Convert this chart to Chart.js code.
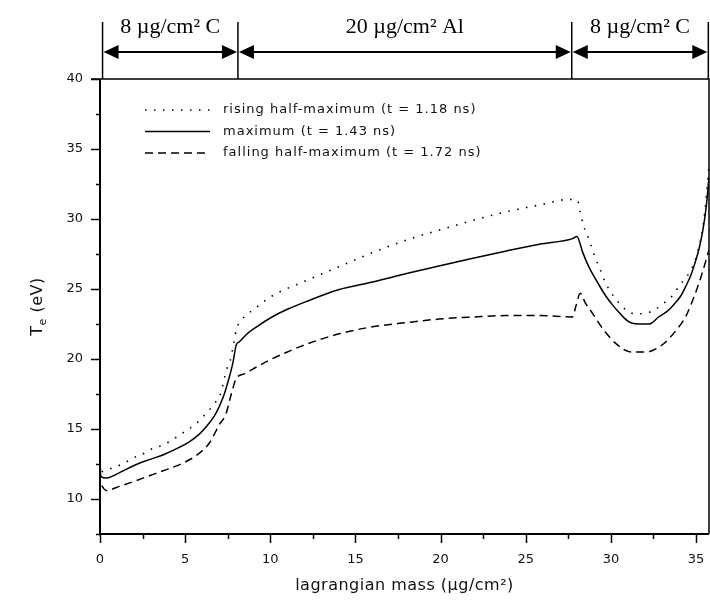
<!DOCTYPE html>
<html>
<head>
<meta charset="utf-8">
<script src="https://cdn.jsdelivr.net/npm/chart.js@4.4.1/dist/chart.umd.min.js"></script>
<style>
	html, body { margin: 0; padding: 0; background: #fff; }
	#wrap { width: 710px; height: 612px; }
</style>
</head>
<body>
<div id="wrap"><canvas id="chart" width="710" height="612"></canvas></div>
<script>
	'use strict';

	// electron temperature profiles
	var risingMass = [0.1, 0.84, 1.43, 1.9, 2.5, 3.0, 3.58, 4.07, 4.55, 5.14, 5.64, 6.22, 6.71, 7.1, 7.3, 7.5, 7.7, 7.8, 7.9, 8.0, 8.2, 9.2, 10.1, 12.1, 14.05, 16.0, 18.0, 19.9, 21.9, 23.8, 25.8, 27.56, 28.05, 28.2, 28.4, 28.7, 29.0, 29.3, 29.7, 30.4, 30.9, 31.5, 32.0, 32.4, 33.0, 33.6, 34.0, 34.4, 34.8, 35.1, 35.4, 35.6, 35.76];
	var risingTe = [11.95, 12.26, 12.57, 12.9, 13.2, 13.55, 13.8, 14.1, 14.47, 14.95, 15.38, 16.1, 16.8, 17.6, 18.6, 19.5, 20.1, 20.8, 21.4, 22.1, 22.6, 23.7, 24.5, 25.6, 26.6, 27.6, 28.5, 29.2, 29.9, 30.5, 31.0, 31.4, 31.3, 30.5, 29.5, 28.6, 27.5, 26.6, 25.4, 24.1, 23.5, 23.2, 23.3, 23.4, 23.9, 24.5, 25.2, 25.8, 26.6, 27.7, 29.4, 31.6, 33.8];

	var maxMass = [0, 0.05, 0.4, 0.85, 1.5, 2.3, 3.0, 3.8, 4.5, 5.2, 5.8, 6.3, 6.7, 7.0, 7.3, 7.5, 7.8, 8.0, 8.2, 8.6, 9.2, 10.1, 11.0, 12.1, 14.0, 16.0, 18.0, 19.9, 21.9, 23.8, 25.8, 27.75, 28.0, 28.35, 28.7, 29.2, 29.7, 30.1, 30.5, 30.85, 31.2, 31.7, 32.25, 32.8, 33.3, 33.7, 34.1, 34.4, 34.7, 35.0, 35.2, 35.4, 35.6, 35.76];
	var maxTe = [12.7, 11.6, 11.5, 11.7, 12.1, 12.55, 12.85, 13.2, 13.6, 14.05, 14.6, 15.25, 15.9, 16.6, 17.5, 18.3, 19.7, 21.0, 21.25, 21.75, 22.3, 23.0, 23.55, 24.1, 24.95, 25.5, 26.1, 26.65, 27.2, 27.7, 28.2, 28.6, 28.75, 27.6, 26.6, 25.5, 24.5, 23.85, 23.3, 22.85, 22.57, 22.5, 22.5, 23.0, 23.4, 23.9, 24.5, 25.2, 26.0, 27.1, 28.0, 29.2, 30.9, 33.0];

	var fallingMass = [0.1, 0.35, 1.13, 2.0, 2.9, 3.9, 4.76, 5.64, 6.42, 7.0, 7.4, 7.7, 8.0, 8.5, 9.0, 10.0, 11.0, 12.1, 14.05, 16.0, 18.0, 19.9, 21.9, 23.8, 25.8, 27.75, 27.95, 28.2, 28.5, 28.9, 29.5, 30.3, 31.2, 32.06, 33.0, 33.8, 34.4, 34.9, 35.3, 35.76];
	var fallingTe = [10.95, 10.6, 10.9, 11.26, 11.66, 12.1, 12.5, 13.1, 14.0, 15.3, 16.1, 17.45, 18.6, 18.95, 19.3, 19.95, 20.5, 21.05, 21.8, 22.3, 22.6, 22.85, 23.0, 23.1, 23.1, 23.0, 23.8, 24.7, 24.0, 23.3, 22.2, 21.1, 20.5, 20.5, 21.0, 22.0, 23.05, 24.5, 25.9, 27.8];

	var seriesLabels = ['rising half-maximum (t = 1.18 ns)', 'maximum (t = 1.43 ns)', 'falling half-maximum (t = 1.72 ns)'];

	// target layers shown above the frame
	var layerEdges = [0.15, 8.1, 27.7, 35.72];
	var layerLabels = ['8 \u00b5g/cm\u00b2 C', '20 \u00b5g/cm\u00b2 Al', '8 \u00b5g/cm\u00b2 C'];

	var xMin = 0, xMax = 35.76, yMin = 7.5, yMax = 40;

	function toPoints(xs, ys) {
		return xs.map(function (x, i) {
			return {x: x, y: ys[i]};
		});
	}

	var dashes = [[1.5, 7.5], [], [8, 5]];

	var framePlugin = {
		id: 'frame',
		afterDraw: function (chart) {
			var ctx = chart.ctx,
				area = chart.chartArea,
				xs = chart.scales.x,
				ys = chart.scales.y;

			ctx.save();
			ctx.strokeStyle = '#000';
			ctx.fillStyle = '#000';

			// axes and box
			ctx.lineWidth = 2;
			ctx.beginPath();
			ctx.moveTo(area.left, area.top);
			ctx.lineTo(area.left, area.bottom);
			ctx.lineTo(area.right, area.bottom);
			ctx.stroke();
			ctx.lineWidth = 1.5;
			ctx.beginPath();
			ctx.moveTo(area.left - 9, area.top);
			ctx.lineTo(area.right, area.top);
			ctx.lineTo(area.right, area.bottom);
			ctx.stroke();

			// tick marks, long on labelled values
			ctx.lineWidth = 1.5;
			ys.ticks.forEach(function (t) {
				var py = Math.round(ys.getPixelForValue(t.value)) + 0.5,
					len = t.value % 5 === 0 ? 9 : 4;
				ctx.beginPath();
				ctx.moveTo(area.left - len, py);
				ctx.lineTo(area.left, py);
				ctx.stroke();
			});
			xs.ticks.forEach(function (t) {
				var px = Math.round(xs.getPixelForValue(t.value)) + 0.5,
					len = t.value % 5 === 0 ? 9 : 5;
				ctx.beginPath();
				ctx.moveTo(px, area.bottom);
				ctx.lineTo(px, area.bottom + len);
				ctx.stroke();
			});

			// legend
			var rowY = [110, 131.5, 153];
			ctx.lineWidth = 1.5;
			rowY.forEach(function (y, i) {
				ctx.setLineDash(dashes[i]);
				ctx.beginPath();
				ctx.moveTo(145, y);
				ctx.lineTo(210, y);
				ctx.stroke();
			});
			ctx.setLineDash([]);
			ctx.font = '13px "DejaVu Sans"';
			ctx.letterSpacing = '1px';
			ctx.textBaseline = 'middle';
			ctx.textAlign = 'left';
			ctx.fillStyle = '#111';
			rowY.forEach(function (y, i) {
				ctx.fillText(seriesLabels[i], 223, y);
			});

			// axis titles
			ctx.letterSpacing = '0.5px';
			ctx.font = '16px "DejaVu Sans"';
			ctx.textAlign = 'center';
			ctx.fillText('lagrangian mass (\u00b5g/cm\u00b2)', (area.left + area.right) / 2, 586);

			ctx.save();
			ctx.translate(38, (area.top + area.bottom) / 2);
			ctx.rotate(-Math.PI / 2);
			ctx.textAlign = 'left';
			var wT = ctx.measureText('T').width,
				rest = ' (eV)';
			ctx.font = '11px "DejaVu Sans"';
			var wE = ctx.measureText('e').width;
			ctx.font = '16px "DejaVu Sans"';
			var wR = ctx.measureText(rest).width,
				x0 = -(wT + wE + wR) / 2;
			ctx.fillText('T', x0, 0);
			ctx.font = '11px "DejaVu Sans"';
			ctx.fillText('e', x0 + wT, 5);
			ctx.font = '16px "DejaVu Sans"';
			ctx.fillText(rest, x0 + wT + wE, 0);
			ctx.restore();

			// layer brackets above the plot
			ctx.letterSpacing = '0px';
			ctx.fillStyle = '#000';
			var edgePx = layerEdges.map(function (v) {
				return xs.getPixelForValue(v);
			});
			var arrowY = 52, head = 15, half = 7;
			ctx.lineWidth = 1.5;
			edgePx.forEach(function (px) {
				ctx.beginPath();
				ctx.moveTo(px, 22);
				ctx.lineTo(px, area.top);
				ctx.stroke();
			});
			for (var i = 0; i < edgePx.length - 1; i++) {
				var a = edgePx[i] + 1, b = edgePx[i + 1] - 1;
				ctx.lineWidth = 2;
				ctx.beginPath();
				ctx.moveTo(a + head - 2, arrowY);
				ctx.lineTo(b - head + 2, arrowY);
				ctx.stroke();
				ctx.beginPath();
				ctx.moveTo(a, arrowY);
				ctx.lineTo(a + head, arrowY - half);
				ctx.lineTo(a + head, arrowY + half);
				ctx.closePath();
				ctx.fill();
				ctx.beginPath();
				ctx.moveTo(b, arrowY);
				ctx.lineTo(b - head, arrowY - half);
				ctx.lineTo(b - head, arrowY + half);
				ctx.closePath();
				ctx.fill();

				ctx.font = '22px "Liberation Serif"';
				ctx.textAlign = 'center';
				ctx.textBaseline = 'alphabetic';
				ctx.fillText(layerLabels[i], (edgePx[i] + edgePx[i + 1]) / 2, 33);
			}
			ctx.restore();
		}
	};

	var lineStyle = {
		borderColor: '#000',
		borderWidth: 1.5,
		pointRadius: 0,
		cubicInterpolationMode: 'monotone',
		fill: false
	};

	new Chart(document.getElementById('chart'), {
		type: 'line',
		data: {
			datasets: [
				Object.assign({label: seriesLabels[0], data: toPoints(risingMass, risingTe), borderDash: dashes[0]}, lineStyle, {borderWidth: 1.6}),
				Object.assign({label: seriesLabels[1], data: toPoints(maxMass, maxTe)}, lineStyle),
				Object.assign({label: seriesLabels[2], data: toPoints(fallingMass, fallingTe), borderDash: dashes[2]}, lineStyle)
			]
		},
		options: {
			responsive: false,
			animation: false,
			devicePixelRatio: 1,
			layout: {padding: {top: 79, right: 1, bottom: 0, left: 0}},
			plugins: {legend: {display: false}, tooltip: {enabled: false}},
			scales: {
				x: {
					type: 'linear',
					min: xMin,
					max: xMax,
					afterFit: function (scale) {
						scale.height = 78;
						scale.paddingLeft = 0;
						scale.paddingRight = 0;
					},
					grid: {display: false, drawTicks: false},
					border: {display: false},
					ticks: {
						stepSize: 2.5,
						includeBounds: false,
						autoSkip: false,
						maxRotation: 0,
						padding: 18,
						color: '#111',
						font: {family: 'DejaVu Sans', size: 13},
						callback: function (v) { return v % 5 === 0 ? String(v) : ''; }
					}
				},
				y: {
					type: 'linear',
					min: yMin,
					max: yMax,
					afterFit: function (scale) {
						scale.width = 100;
						scale.paddingTop = 0;
						scale.paddingBottom = 0;
					},
					grid: {display: false, drawTicks: false},
					border: {display: false},
					ticks: {
						stepSize: 2.5,
						autoSkip: false,
						padding: 17,
						color: '#111',
						font: {family: 'DejaVu Sans', size: 13},
						callback: function (v) { return v % 5 === 0 ? String(v) : ''; }
					}
				}
			}
		},
		plugins: [framePlugin]
	});
</script>
</body>
</html>
